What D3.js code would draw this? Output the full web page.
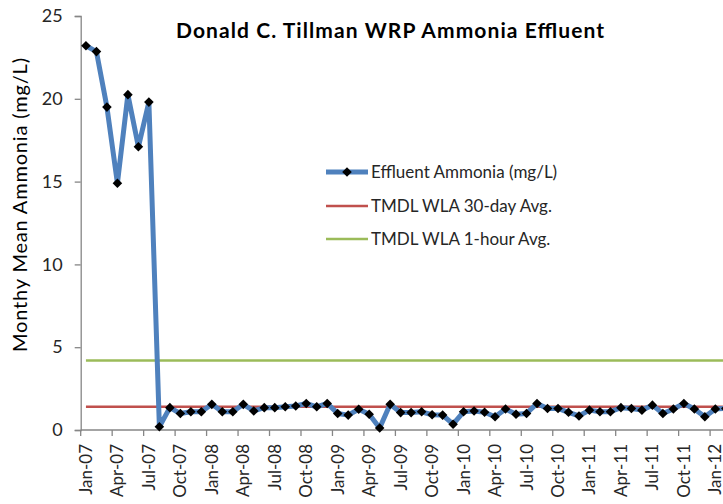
<!DOCTYPE html>
<html><head><meta charset="utf-8">
<script src="https://cdn.jsdelivr.net/npm/d3@7"></script>
<style>
html,body{margin:0;padding:0;background:#fff;}
svg{display:block;font-family:Lato,"Open Sans",sans-serif;}
</style></head>
<body>
<svg id="chart" width="723" height="504"></svg>
<script>
// ---- data ----
const months = [
 "Jan-07","Feb-07","Mar-07","Apr-07","May-07","Jun-07","Jul-07","Aug-07","Sep-07","Oct-07","Nov-07","Dec-07",
 "Jan-08","Feb-08","Mar-08","Apr-08","May-08","Jun-08","Jul-08","Aug-08","Sep-08","Oct-08","Nov-08","Dec-08",
 "Jan-09","Feb-09","Mar-09","Apr-09","May-09","Jun-09","Jul-09","Aug-09","Sep-09","Oct-09","Nov-09","Dec-09",
 "Jan-10","Feb-10","Mar-10","Apr-10","May-10","Jun-10","Jul-10","Aug-10","Sep-10","Oct-10","Nov-10","Dec-10",
 "Jan-11","Feb-11","Mar-11","Apr-11","May-11","Jun-11","Jul-11","Aug-11","Sep-11","Oct-11","Nov-11","Dec-11",
 "Jan-12","Feb-12","Mar-12"
];
const effluentAmmonia = [
 23.2,22.85,19.5,14.9,20.25,17.1,19.8,0.2,1.35,1.0,1.1,1.1,
 1.55,1.1,1.1,1.55,1.15,1.35,1.35,1.4,1.45,1.6,1.4,1.6,
 1.0,0.9,1.25,0.95,0.12,1.55,1.05,1.05,1.1,0.92,0.9,0.35,
 1.1,1.15,1.07,0.8,1.27,0.95,1.0,1.6,1.3,1.3,1.07,0.85,
 1.2,1.1,1.1,1.35,1.3,1.2,1.5,1.0,1.27,1.6,1.27,0.8,
 1.27,1.3,1.2
];
const wla30day = months.map(() => 1.4);
const wla1hour = months.map(() => 4.2);
const yTicks = [0,5,10,15,20,25];
const xTickLabels = months.filter((m,i) => i % 3 === 0);
const legendLabels = ["Effluent Ammonia (mg/L)","TMDL WLA 30-day Avg.","TMDL WLA 1-hour Avg."];
const titleText = "Donald C. Tillman WRP Ammonia Effluent";
const yLabel = "Monthy Mean Ammonia (mg/L)";

// ---- layout ----
const svg = d3.select("#chart");
const plotLeft = 80.7, step = 10.49, plotTop = 16, plotBottom = 430;
const x = d3.scaleBand().domain(months).range([plotLeft, plotLeft + months.length*step]).padding(0);
const y = d3.scaleLinear().domain([0,25]).range([plotBottom, plotTop]);
const cx = m => x(m) + x.bandwidth()/2;
const axisColor = "#868686";
const textColor = "#262626";

// y axis
const yAxis = d3.axisLeft(y).tickValues(yTicks).tickSize(6).tickPadding(12).tickFormat(d3.format("d"));
const gy = svg.append("g").attr("transform",`translate(${plotLeft},0)`).call(yAxis);
gy.select(".domain").attr("stroke",axisColor).attr("stroke-width",1.3);
gy.selectAll(".tick line").attr("stroke",axisColor).attr("stroke-width",1.3);
gy.selectAll(".tick text").attr("fill",textColor).attr("font-size",18).attr("font-family","Lato");

// x axis line
svg.append("line").attr("x1",plotLeft).attr("x2",723).attr("y1",plotBottom).attr("y2",plotBottom)
  .attr("stroke",axisColor).attr("stroke-width",1.3);
// x ticks at category boundaries every 3 months
svg.append("g").selectAll("line").data(months.filter((m,i)=>i%3===0)).join("line")
  .attr("x1",d=>x(d)).attr("x2",d=>x(d)).attr("y1",plotBottom).attr("y2",plotBottom+6)
  .attr("stroke",axisColor).attr("stroke-width",1.3);
// x labels
svg.append("g").selectAll("text").data(xTickLabels).join("text")
  .attr("transform",d=>`translate(${cx(d)+6},${plotBottom+14}) rotate(-90)`)
  .attr("text-anchor","end").attr("font-size",17).attr("fill",textColor)
  .text(d=>d);

// reference lines
const line = d3.line().x((d,i)=>cx(months[i])).y(d=>y(d));
svg.append("path").datum(wla1hour).attr("d",line).attr("fill","none")
  .attr("stroke","#9BBB59").attr("stroke-width",2.6);
svg.append("path").datum(wla30day).attr("d",line).attr("fill","none")
  .attr("stroke","#C0504D").attr("stroke-width",2.6);

// effluent series
svg.append("path").datum(effluentAmmonia).attr("d",line).attr("fill","none")
  .attr("stroke","#4F81BD").attr("stroke-width",5).attr("stroke-linejoin","round");
const diamond = d3.symbol().type(d3.symbolSquare).size(46);
svg.append("g").selectAll("path").data(effluentAmmonia).join("path")
  .attr("d",diamond)
  .attr("transform",(d,i)=>`translate(${cx(months[i])},${y(d)}) rotate(45)`)
  .attr("fill","#000");

// title
svg.append("text").attr("x",390).attr("y",38).attr("text-anchor","middle")
  .attr("font-size",21).attr("font-weight","bold").attr("fill","#000")
  .attr("textLength",428).attr("lengthAdjust","spacing").text(titleText);

// y label
svg.append("text").attr("transform","translate(27,205) rotate(-90)")
  .attr("text-anchor","middle").attr("font-size",20).attr("fill","#000")
  .attr("textLength",294).attr("lengthAdjust","spacing").text(yLabel);

// legend
const legY = [172,206,239];
const legColors = ["#4F81BD","#C0504D","#9BBB59"];
const legWidths = [5,2.6,2.6];
const legLen = [209,184,195];
const lg = svg.append("g");
legendLabels.forEach((t,i)=>{
  lg.append("line").attr("x1",326).attr("x2",368).attr("y1",legY[i]).attr("y2",legY[i])
    .attr("stroke",legColors[i]).attr("stroke-width",legWidths[i]);
  if(i===0) lg.append("path").attr("d",diamond).attr("transform",`translate(347,${legY[i]}) rotate(45)`).attr("fill","#000");
  lg.append("text").attr("x",371).attr("y",legY[i]).attr("dy","0.35em")
    .attr("font-size",17).attr("fill",textColor).text(t);
});
</script>
</body></html>
